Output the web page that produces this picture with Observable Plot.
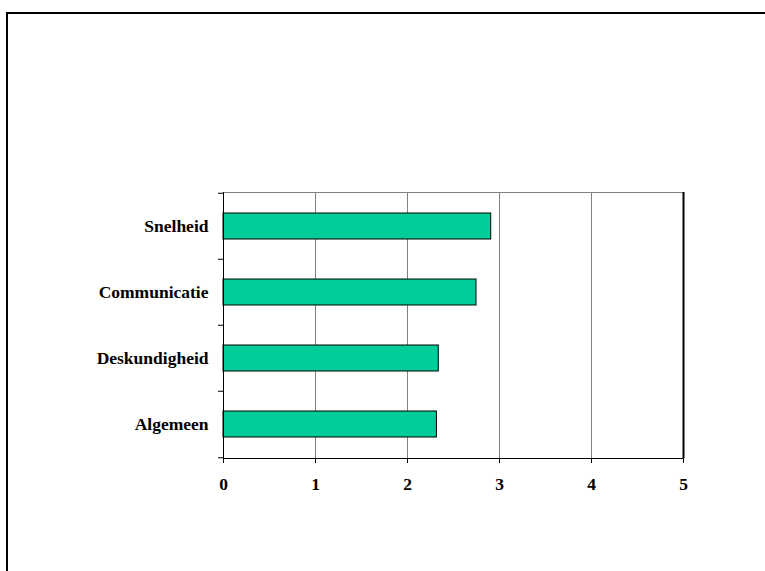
<!DOCTYPE html>
<html>
<head>
<meta charset="utf-8">
<script src="https://cdn.jsdelivr.net/npm/d3@7"></script>
<script src="https://cdn.jsdelivr.net/npm/@observablehq/plot@0.6"></script>
<style>
  html, body { margin: 0; padding: 0; background: #fff; overflow: hidden; }
  #wrap { position: relative; width: 765px; height: 571px; }
  #border { position: absolute; left: 6px; top: 12px; width: 800px; height: 600px;
            border-left: 2px solid #000; border-top: 2px solid #000; pointer-events: none; }
  #wrap svg text { font-family: "Liberation Serif", "Times New Roman", serif !important; font-weight: bold; }
</style>
</head>
<body>
<div id="wrap"><div id="border"></div></div>
<script>
const categories = ["Snelheid", "Communicatie", "Deskundigheid", "Algemeen"];
const values = [2.91, 2.75, 2.34, 2.32];
const xTicks = [0, 1, 2, 3, 4, 5];

const data = categories.map((c, i) => ({category: c, value: values[i]}));

const W = 765, H = 571, mL = 223, mR = 82, mT = 192, mB = 113;
const band = (H - mT - mB) / categories.length;

const chart = Plot.plot({
  width: W, height: H,
  marginLeft: mL, marginRight: mR, marginTop: mT, marginBottom: mB,
  style: {fontFamily: "Liberation Serif", fontSize: "17.5px", fontWeight: "bold", background: "transparent", color: "#000"},
  x: {domain: [xTicks[0], xTicks[xTicks.length - 1]]},
  y: {domain: categories, padding: 0},
  marks: [
    Plot.gridX(xTicks.slice(1, -1), {stroke: "#808080", strokeOpacity: 1}),
    Plot.frame({stroke: "#808080"}),
    Plot.barX(data, {x: "value", y: "category", fill: "#00CC99", stroke: "#000", strokeWidth: 1, insetTop: 20, insetBottom: 20}),
    Plot.ruleX([xTicks[0]], {stroke: "#000"}),
    Plot.ruleX([xTicks[xTicks.length - 1]], {stroke: "#000", strokeWidth: 2}),
    Plot.frame({anchor: "bottom", stroke: "#000"}),
    Plot.ruleY(categories, {y: d => d, x1: 0, x2: 0, insetLeft: -5, dy: -band / 2, stroke: "#000"}),
    Plot.ruleY(categories.slice(-1), {y: d => d, x1: 0, x2: 0, insetLeft: -5, dy: band / 2, stroke: "#000"}),
    Plot.axisX(xTicks, {tickSize: 5, tickPadding: 14, stroke: "#000", label: null, fontSize: 17.5, fontWeight: "bold"}),
    Plot.axisY({tickSize: 0, tickPadding: 15, label: null, fontSize: 17.5, fontWeight: "bold"})
  ]
});
document.getElementById("wrap").appendChild(chart);
</script>
</body>
</html>
